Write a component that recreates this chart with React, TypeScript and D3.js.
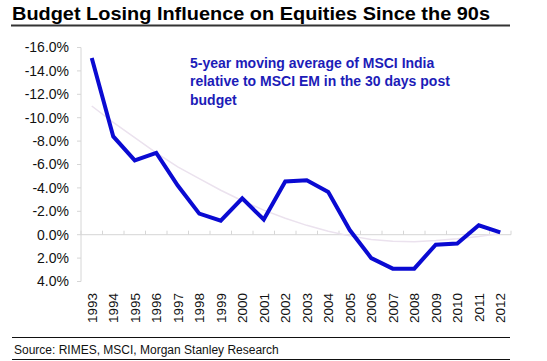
import * as d3 from 'd3';

const years = [
  '1993', '1994', '1995', '1996', '1997', '1998', '1999', '2000', '2001', '2002',
  '2003', '2004', '2005', '2006', '2007', '2008', '2009', '2010', '2011', '2012',
];

// 5-yr moving average of MSCI India vs MSCI EM, 30 days post budget (%)
const relPerf = [
  -15.1, -8.4, -6.35, -7.0, -4.2, -1.8, -1.2, -3.1, -1.3, -4.55,
  -4.65, -3.65, -0.4, 2.0, 2.9, 2.9, 0.85, 0.75, -0.8, -0.2,
];

// faint trend line drawn behind the series
const trend = [
  -11.0, -9.6, -8.3, -7.0, -5.8, -4.8, -3.8, -2.9, -2.1, -1.4,
  -0.8, -0.3, 0.1, 0.4, 0.55, 0.6, 0.5, 0.35, 0.15, -0.1,
];

const yTicks = [-16, -14, -12, -10, -8, -6, -4, -2, 0, 2, 4];

const title = 'Budget Losing Influence on Equities Since the 90s';
const note = [
  '5-year moving average of MSCI India',
  'relative to MSCI EM in the 30 days post',
  'budget',
];
const source = 'Source: RIMES, MSCI, Morgan Stanley Research';

const W = 547;
const H = 361;
const font = 'Arial, "Liberation Sans", sans-serif';

export default function App() {
  const x = d3.scaleBand<string>().domain(years).range([81, 511]).padding(0);
  const y = d3.scaleLinear().domain([-16, 4]).range([47.5, 281.5]);
  const cx = (i: number) => (x(years[i]) ?? 0) + x.bandwidth() / 2;

  const line = d3.line<number>().x((_, i) => cx(i)).y((d) => y(d));

  const zeroY = y(0);
  const bounds = years.map((yr) => x(yr) ?? 0).concat([x.range()[1]]);

  return (
    <svg
      width={W}
      height={H}
      style={{ position: 'absolute', left: 0, top: 0, background: '#fff' }}
      fontFamily={font}
    >
      <text
        x={12}
        y={20}
        fontSize={18}
        fontWeight="bold"
        fill="#000"
        textLength={478}
        lengthAdjust="spacingAndGlyphs"
      >
        {title}
      </text>
      <line x1={11} x2={510} y1={25.5} y2={25.5} stroke="#333" strokeWidth={2} />

      {/* y axis */}
      <line x1={81} x2={81} y1={y(-16)} y2={y(4)} stroke="#d6d6d6" />
      {yTicks.map((t) => (
        <g key={t}>
          <line x1={77} x2={81} y1={y(t)} y2={y(t)} stroke="#d6d6d6" />
          <text
            x={69}
            y={y(t)}
            dy="0.35em"
            textAnchor="end"
            fontSize={14}
            fill="#111"
          >
            {t.toFixed(1) + '%'}
          </text>
        </g>
      ))}

      {/* x axis along zero */}
      <line x1={81} x2={x.range()[1]} y1={zeroY} y2={zeroY} stroke="#d6d6d6" />
      {bounds.map((b, i) => (
        <line key={i} x1={b} x2={b} y1={zeroY - 4} y2={zeroY} stroke="#d6d6d6" />
      ))}
      {years.map((yr, i) => (
        <text
          key={yr}
          transform={`translate(${cx(i) + 5},293) rotate(-90)`}
          textAnchor="end"
          fontSize={13.5}
          fill="#111"
        >
          {yr}
        </text>
      ))}

      <path d={line(trend) ?? ''} fill="none" stroke="#ebe2ee" strokeWidth={1.5} />
      <path
        d={line(relPerf) ?? ''}
        fill="none"
        stroke="#0a0ad2"
        strokeWidth={4}
        strokeLinejoin="miter"
      />

      {note.map((l, i) => (
        <text
          key={i}
          x={190}
          y={67.5 + i * 18.7}
          fontSize={14}
          fontWeight="bold"
          fill="#1c1cb8"
        >
          {l}
        </text>
      ))}

      <line x1={12} x2={510} y1={337.5} y2={337.5} stroke="#111" strokeWidth={1.2} />
      <text x={14} y={354} fontSize={12} fill="#111">
        {source}
      </text>
      <line x1={12} x2={510} y1={359.5} y2={359.5} stroke="#111" strokeWidth={1.2} />
    </svg>
  );
}
